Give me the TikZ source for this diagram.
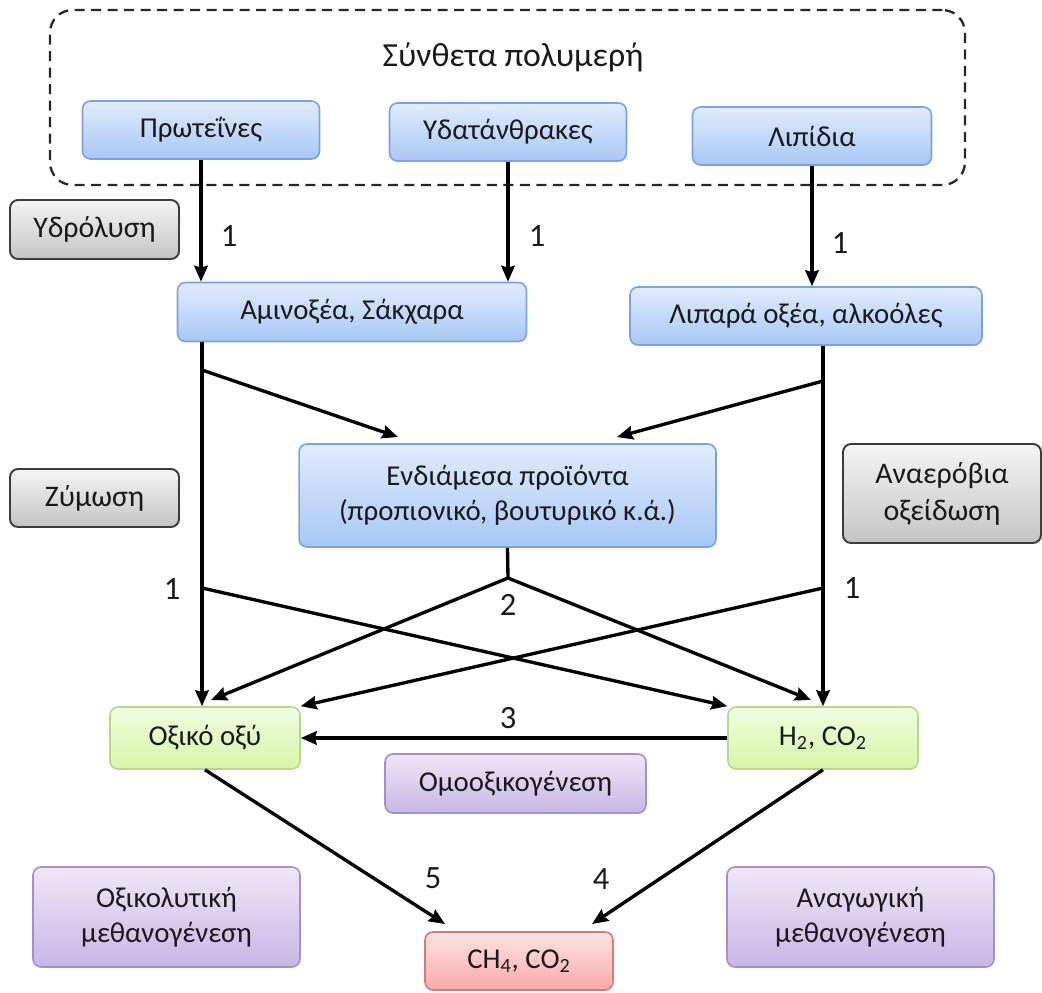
\documentclass[tikz,border=0pt]{standalone}
\usepackage{fontspec}
\setmainfont{Carlito}
\usetikzlibrary{arrows.meta}
\definecolor{txt}{HTML}{1A1A1A}
\definecolor{blueT}{HTML}{E0EBFD}\definecolor{blueB}{HTML}{A8C7F4}\definecolor{blueD}{HTML}{7AA3DC}
\definecolor{grayT}{HTML}{F4F4F4}\definecolor{grayB}{HTML}{C4C4C4}\definecolor{grayD}{HTML}{3C3C3C}
\definecolor{greenT}{HTML}{F0FDE0}\definecolor{greenB}{HTML}{D6F5A8}\definecolor{greenD}{HTML}{B5D88A}
\definecolor{purpT}{HTML}{EDE7F7}\definecolor{purpB}{HTML}{C7B6E4}\definecolor{purpD}{HTML}{A48FCC}
\definecolor{redT}{HTML}{FEE4E4}\definecolor{redB}{HTML}{F9A9A9}\definecolor{redD}{HTML}{D47A7A}
\newcommand{\boxfont}{\fontsize{16.4}{20}\selectfont}
\newcommand{\grayfont}{\fontsize{17}{21}\selectfont}
\newcommand{\numfont}{\fontsize{18.5}{22}\selectfont}
\newcommand{\titlefont}{\fontsize{19.2}{23}\selectfont}
\begin{document}
\begin{tikzpicture}[x=0.02cm,y=-0.02cm,
  box/.style={rounded corners=0.16cm, inner sep=0pt, align=center, text=txt, font=\boxfont, line width=0.9pt},
  bluebox/.style={box, draw=blueD, top color=blueT, bottom color=blueB},
  graybox/.style={box, draw=grayD, top color=grayT, bottom color=grayB, font=\grayfont, line width=1.1pt},
  greenbox/.style={box, draw=greenD, top color=greenT, bottom color=greenB},
  purpbox/.style={box, draw=purpD, top color=purpT, bottom color=purpB},
  redbox/.style={box, draw=redD, top color=redT, bottom color=redB},
  container/.style={draw=black!85, dash pattern=on 0.2cm off 0.13cm, line width=1.3pt, rounded corners=0.45cm, inner sep=0pt},
  num/.style={text=txt, font=\numfont, inner sep=0pt},
  flow/.style={line width=1.9pt, -{Stealth[length=0.32cm,width=0.27cm,inset=0.04cm]}},
  plain/.style={line width=1.9pt}
]
\useasboundingbox (0,0) rectangle (1042,992);

% container
\node[container, minimum width=18.3cm, minimum height=3.5cm] (group) at (507.5,97.5) {};
\node[text=txt, font=\titlefont, inner sep=0pt] (title) at (513,57) {Σύνθετα πολυμερή};

% top row
\node[bluebox, minimum width=4.74cm, minimum height=1.16cm] (prot) at (201,130) {Πρωτεΐνες};
\node[bluebox, minimum width=4.74cm, minimum height=1.16cm] (ydat) at (508,132) {Υδατάνθρακες};
\node[bluebox, minimum width=4.78cm, minimum height=1.16cm] (lip) at (812,136) {Λιπίδια};

\node[graybox, minimum width=3.38cm, minimum height=1.18cm] (hydro) at (94.5,229.5) {Υδρόλυση};

\node[bluebox, minimum width=6.98cm, minimum height=1.18cm] (amino) at (352,312) {Αμινοξέα, Σάκχαρα};
\node[bluebox, minimum width=7.04cm, minimum height=1.16cm] (lipara) at (806,316) {Λιπαρά οξέα, αλκοόλες};

\node[bluebox, minimum width=8.34cm, minimum height=2.06cm] (endiam) at (507.5,495.5) {Ενδιάμεσα προϊόντα\\(προπιονικό, βουτυρικό κ.ά.)};
\node[graybox, minimum width=3.38cm, minimum height=1.16cm] (zym) at (94.5,498) {Ζύμωση};
\node[graybox, minimum width=3.96cm, minimum height=1.98cm] (anaer) at (942,493.5) {Αναερόβια\\οξείδωση};

\node[greenbox, minimum width=3.8cm, minimum height=1.24cm] (oxiko) at (205,738) {Οξικό οξύ};
\node[greenbox, minimum width=3.8cm, minimum height=1.24cm] (h2) at (823,738) {H\textsubscript{2}, CO\textsubscript{2}};
\node[purpbox, minimum width=5.22cm, minimum height=1.18cm] (omoox) at (515.5,783.5) {Ομοοξικογένεση};

\node[purpbox, minimum width=5.34cm, minimum height=2.0cm] (oxikol) at (166.5,917) {Οξικολυτική\\μεθανογένεση};
\node[purpbox, minimum width=5.34cm, minimum height=2.0cm] (anag) at (860.5,917) {Αναγωγική\\μεθανογένεση};
\node[redbox, minimum width=3.76cm, minimum height=1.16cm] (ch4) at (519,961) {CH\textsubscript{4}, CO\textsubscript{2}};

% branch points and free ends
\coordinate (a1) at (202,370);
\coordinate (a2) at (202,588);
\coordinate (b1) at (823,381);
\coordinate (b2) at (823,588);
\coordinate (c) at (508,578);
\coordinate (eL) at (398,437);
\coordinate (eR) at (617,437);
\coordinate (oxT) at (211,700);
\coordinate (h2T) at (811,700);
\coordinate (chL) at (445,924);
\coordinate (chR) at (592,924);

% hydrolysis
\draw[flow] (prot.south) -- (prot.south |- amino.north);
\draw[flow] (ydat.south) -- (ydat.south |- amino.north);
\draw[flow] (lip.south) -- (lip.south |- lipara.north);

% fermentation / oxidation trunks
\draw[flow] (amino.south -| a1) -- (oxiko.north -| a1);
\draw[flow] (a1) -- (eL);
\draw[flow] (a2) -- (h2.north west);
\draw[flow] (lipara.south -| b1) -- (h2.north -| b1);
\draw[flow] (b1) -- (eR);
\draw[flow] (b2) -- (oxiko.north east);

\draw[plain] (endiam.south) -- (c);
\draw[flow] (c) -- (oxT);
\draw[flow] (c) -- (h2T);

\draw[flow] (h2.west) -- (oxiko.east);
\draw[flow] (oxiko.south) -- (chL);
\draw[flow] (h2.south) -- (chR);

% numbers
\node[num] (n1a) at (229,236) {1};
\node[num] (n1b) at (537,236) {1};
\node[num] (n1c) at (840,243) {1};
\node[num] (n1d) at (172,589) {1};
\node[num] (n1e) at (852,588) {1};
\node[num] (n2) at (508,605) {2};
\node[num] (n3) at (508,718) {3};
\node[num] (n5) at (433,878) {5};
\node[num] (n4) at (601,879) {4};
\end{tikzpicture}
\end{document}
